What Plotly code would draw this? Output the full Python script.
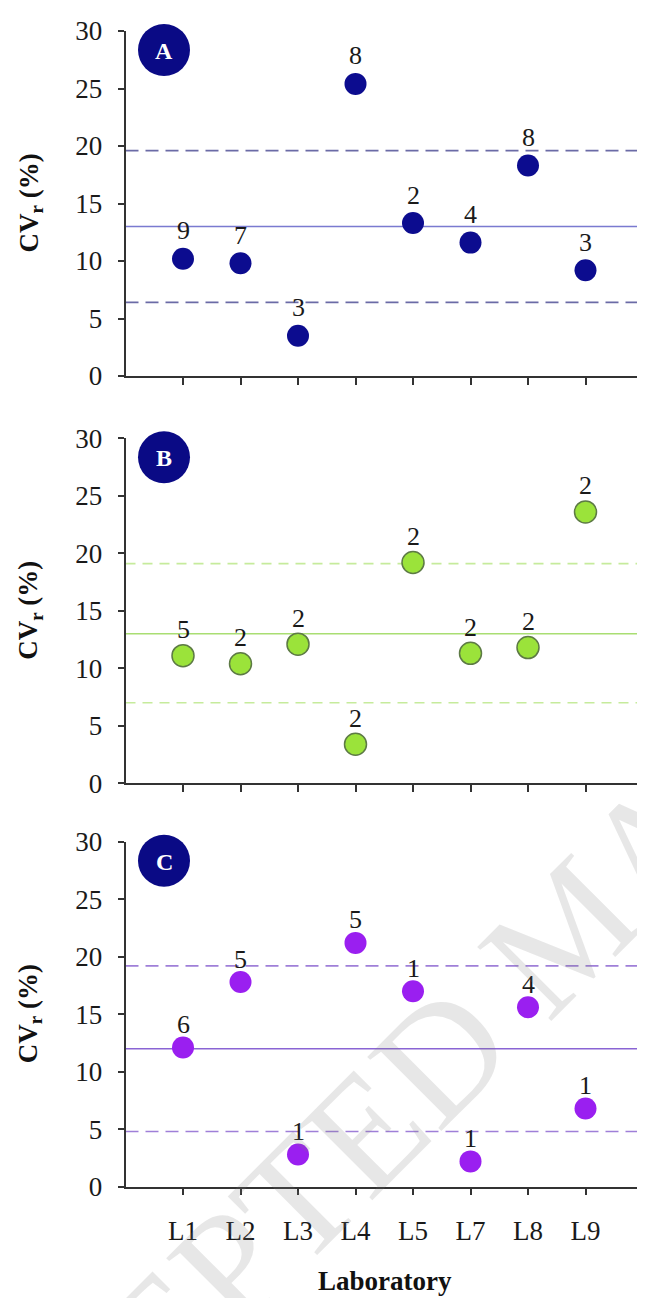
import plotly.graph_objects as go

# ---------------- data ----------------
labs = ["L1", "L2", "L3", "L4", "L5", "L7", "L8", "L9"]
yticks = [0, 5, 10, 15, 20, 25, 30]

cv_a = [10.2, 9.8, 3.5, 25.4, 13.3, 11.6, 18.3, 9.2]
n_a = [9, 7, 3, 8, 2, 4, 8, 3]
lim_a = [6.4, 13.0, 19.6]      # lower, mean, upper

cv_b = [11.1, 10.4, 12.1, 3.4, 19.2, 11.3, 11.8, 23.6]
n_b = [5, 2, 2, 2, 2, 2, 2, 2]
lim_b = [7.0, 13.0, 19.1]

cv_c = [12.1, 17.8, 2.8, 21.2, 17.0, 2.2, 15.6, 6.8]
n_c = [6, 5, 1, 5, 1, 1, 4, 1]
lim_c = [4.8, 12.0, 19.2]

panel_letters = ["A", "B", "C"]

# ---------------- layout helpers ----------------
OFF = 8  # page body margin offset compensation
W, H = 645 + OFF, 1298 + OFF
def fx(p):
    return (p - OFF) / W
def fy(p):
    return 1 - (p - OFF) / H

FONT = "Liberation Serif"
panels_px = [(31, 376), (438.3, 783.3), (841.7, 1186.7)]
x_dom = [fx(125.5), fx(645)]

styles = [
    dict(mcolor="#0c0c8f", mline=dict(width=0), dash_c="#6b6ba6", solid_c="#7a7ad0", dash="13px,7px", yshift=28),
    dict(mcolor="#9be33a", mline=dict(width=1.5, color="#5d7a45"), dash_c="#c6eb9c", solid_c="#a9de72", dash="10px,7px", yshift=26),
    dict(mcolor="#9a1ff0", mline=dict(width=0), dash_c="#9f7fd8", solid_c="#8a64d4", dash="13px,7px", yshift=23),
]
series = [(cv_a, n_a, lim_a), (cv_b, n_b, lim_b), (cv_c, n_c, lim_c)]
xpos = list(range(1, len(labs) + 1))
x_max = 9 * (x_dom[1] - x_dom[0]) / (fx(643) - fx(125.5))

fig = go.Figure()
annotations = []
shapes = []
layout_axes = {}

def paper_text(x, y, text, **kw):
    d = dict(x=x, y=y, xref="paper", yref="paper", text=text, showarrow=False,
             xanchor="center", yanchor="middle")
    d.update(kw)
    return d

for i, ((vals, ns, lims), st, (top, bot), letter) in enumerate(zip(series, styles, panels_px, panel_letters)):
    k = "" if i == 0 else str(i + 1)
    xa, ya = "x" + k, "y" + k
    fig.add_trace(go.Scatter(
        x=xpos, y=vals, mode="markers", xaxis=xa, yaxis=ya,
        marker=dict(size=22, color=st["mcolor"], line=st["mline"]),
        showlegend=False, hoverinfo="skip"))
    for xv, yv, nv in zip(xpos, vals, ns):
        annotations.append(dict(x=xv, y=yv, xref=xa, yref=ya, text=str(nv), showarrow=False,
                                xanchor="center", yanchor="middle",
                                yshift=st["yshift"], font=dict(family=FONT, size=26, color="#1a1a1a")))
    # reference lines
    for j, lv in enumerate(lims):
        shapes.append(dict(type="line", xref=xa + " domain", yref=ya, x0=0, x1=1, y0=lv, y1=lv,
                           line=dict(color=st["solid_c"] if j == 1 else st["dash_c"], width=1.6,
                                     dash="solid" if j == 1 else st["dash"]), layer="below"))
    # axes
    layout_axes["xaxis" + k] = dict(
        domain=x_dom, range=[0, x_max], anchor=ya, tickvals=xpos, ticktext=labs, automargin=False,
        showticklabels=(i == 2), ticks="outside", ticklen=7, tickwidth=1.5, tickcolor="#333",
        showline=True, linecolor="#333", linewidth=1.5, showgrid=False, zeroline=False,
        tickfont=dict(family=FONT, size=27, color="#1a1a1a"), ticklabelstandoff=12)
    layout_axes["yaxis" + k] = dict(
        domain=[fy(bot), fy(top)], range=[0, 30], anchor=xa, tickvals=yticks, automargin=False,
        ticks="outside", ticklen=6, tickwidth=1.5, tickcolor="#333",
        showline=True, linecolor="#333", linewidth=1.5, showgrid=False, zeroline=False,
        tickfont=dict(family=FONT, size=27, color="#1a1a1a"), ticklabelstandoff=10)
    # y title
    annotations.append(paper_text(fx(30), fy((top + bot) / 2), "<b>CV<sub>r</sub> (%)</b>",
                                  textangle=-90, font=dict(family=FONT, size=27, color="#111")))
    # panel badge
    cx, cy, r = 164, top + 19, 26
    shapes.append(dict(type="circle", xref="paper", yref="paper",
                       x0=fx(cx - r), x1=fx(cx + r), y0=fy(cy + r), y1=fy(cy - r),
                       fillcolor="#0a0a85", line=dict(width=0)))
    annotations.append(paper_text(fx(cx), fy(cy + 1), "<b>%s</b>" % letter,
                                  font=dict(family=FONT, size=24, color="white")))

annotations.append(paper_text(fx(385), fy(1281), "<b>Laboratory</b>",
                              font=dict(family=FONT, size=27, color="#111")))
# faint watermark
annotations.append(paper_text(fx(568), fy(928), "ACCEPTED MANUSCRIPT", textangle=-45,
                              font=dict(family=FONT, size=160, color="rgba(120,120,120,0.18)")))

fig.update_layout(width=W, height=H,
                  margin=dict(l=0, r=0, t=0, b=0, pad=0, autoexpand=False),
                  paper_bgcolor="white", plot_bgcolor="white",
                  annotations=annotations, shapes=shapes, **layout_axes)
fig.write_html("out.html")
